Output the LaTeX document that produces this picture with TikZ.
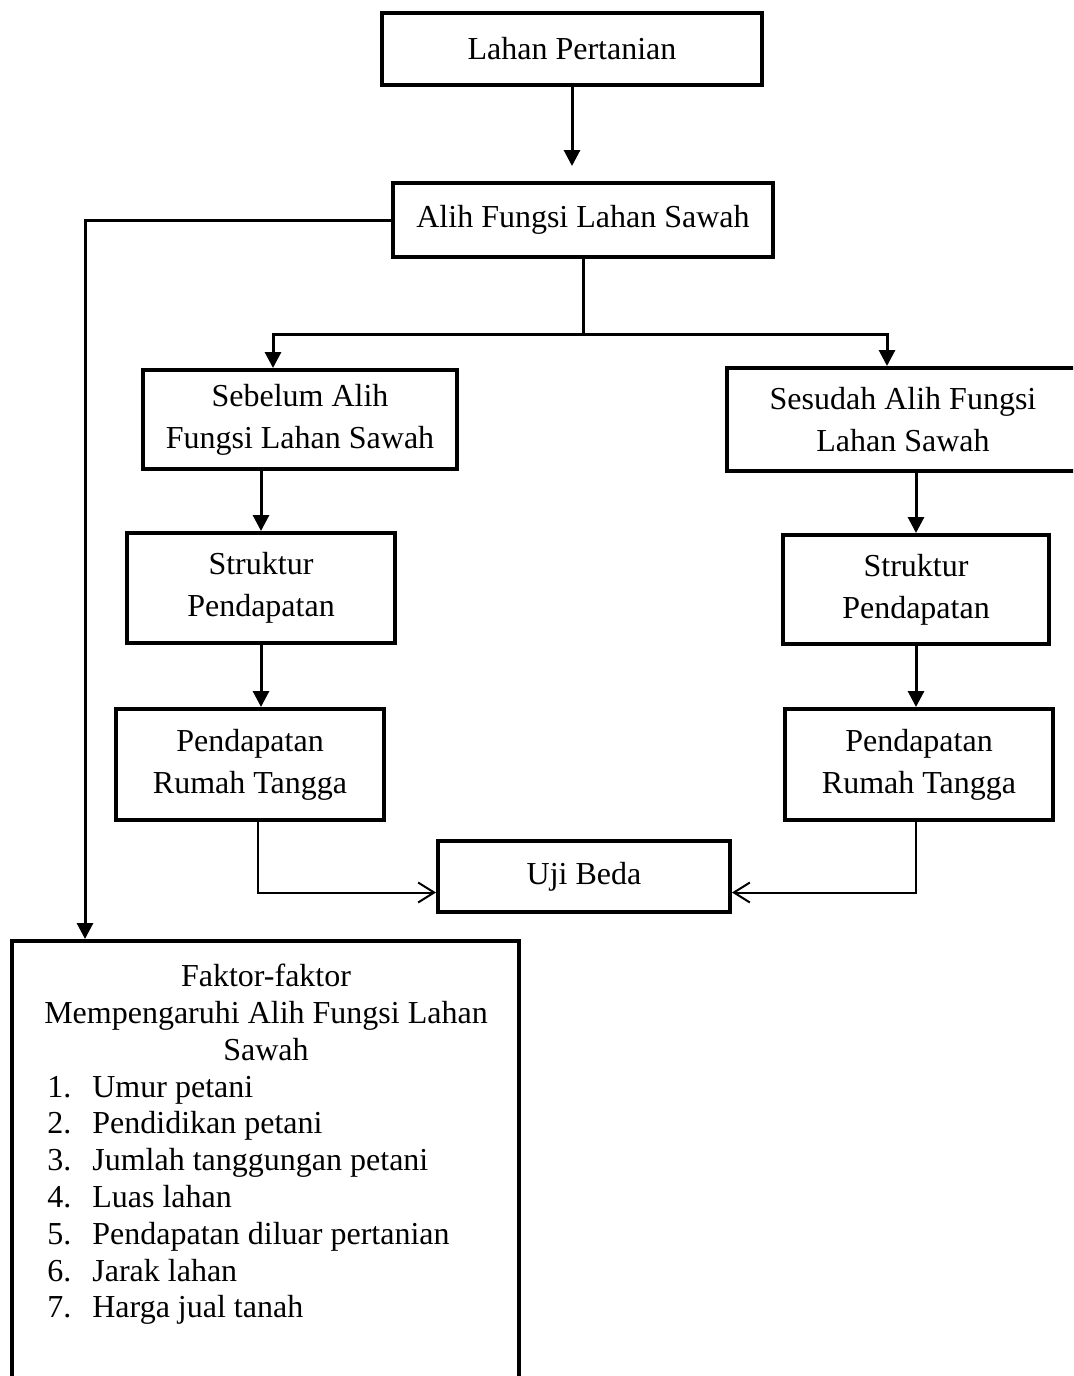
\documentclass[tikz,border=0pt]{standalone}
\usepackage{fontspec}
\setmainfont{Liberation Serif}
\usetikzlibrary{arrows.meta}

\begin{document}
\begin{tikzpicture}[x=0.5pt, y=-0.5pt,
    every node/.style={font=\fontsize{16}{21}\selectfont},
    kotak/.style={draw, line width=2pt, inner sep=0pt, align=center},
    garis/.style={line width=1.5pt},
    panah/.style={line width=1.5pt, -{Triangle[length=8pt,width=8pt]}},
    panahtipis/.style={line width=1pt, -{Straight Barb[length=8pt,width=10pt]}}]
    \useasboundingbox (0,0) rectangle (1073,1376);
    \clip (0,0) rectangle (1073,1376);

    \node[kotak, minimum width=190pt, minimum height=36pt] (lahan) at (572,49) {Lahan Pertanian};
    \node[kotak, minimum width=190pt, minimum height=37pt] (alih) at (583,220) {Alih Fungsi Lahan Sawah};

    \node[kotak, minimum width=157pt, minimum height=49.5pt] (sebelum) at (300,419.5) {Sebelum Alih\\Fungsi Lahan Sawah};
    \node[kotak, minimum width=176pt, minimum height=51.5pt] (sesudah) at (903,419.5) {Sesudah Alih Fungsi\\Lahan Sawah};

    \node[kotak, minimum width=134pt, minimum height=55pt] (strukL) at (261,588) {Struktur\\Pendapatan};
    \node[kotak, minimum width=133pt, minimum height=54.5pt] (strukR) at (916,589.5) {Struktur\\Pendapatan};

    \node[kotak, minimum width=134pt, minimum height=55.5pt] (rumahL) at (250,764.5) {Pendapatan\\Rumah Tangga};
    \node[kotak, minimum width=134pt, minimum height=55.5pt] (rumahR) at (919,764.5) {Pendapatan\\Rumah Tangga};

    \node[kotak, minimum width=146pt, minimum height=35.5pt] (uji) at (584,876.5) {Uji Beda};

    % kotak faktor, terpotong di bawah
    \node[kotak, minimum width=253.5pt, minimum height=229.5pt] (fak) at (265.5,1170.5) {};
    \node[anchor=base, align=center, inner sep=0pt, font=\fontsize{16}{18.4}\selectfont] (judul) at (266,1060)
        {Faktor-faktor\\Mempengaruhi Alih Fungsi Lahan\\Sawah};
    \foreach \n/\isi in {1/Umur petani, 2/Pendidikan petani, 3/Jumlah tanggungan petani,
            4/Luas lahan, 5/Pendapatan diluar pertanian, 6/Jarak lahan, 7/Harga jual tanah} {
            \node[anchor=base west, inner sep=0pt] (butir\n) at (47,{1097+36.8*(\n-1)}) {\makebox[22.5pt][l]{\n.}\isi};
        }

    \draw[panah, shorten >=7.5pt] (lahan.south) -- (lahan.south |- alih.north);
    \draw[panah] (alih.west) -| ([xshift=37.5pt]fak.north west);

    \coordinate (cabang) at ([yshift=-37.5pt]alih.south);
    \draw[garis] (alih.south) -- (cabang);
    \draw[panah] (cabang) -| ([xshift=-13.5pt]sebelum.north);
    \draw[panah] (cabang) -| ([xshift=-8pt]sesudah.north);

    \draw[panah] (strukL.north |- sebelum.south) -- (strukL.north);
    \draw[panah] (strukL.south) -- (strukL.south |- rumahL.north);
    \draw[panah] (strukR.north |- sesudah.south) -- (strukR.north);
    \draw[panah] (strukR.south) -- (strukR.south |- rumahR.north);

    \draw[panahtipis] ([xshift=4pt]rumahL.south) |- ([yshift=-8pt]uji.west);
    \draw[panahtipis] ([xshift=-1.5pt]rumahR.south) |- ([yshift=-8pt]uji.east);
\end{tikzpicture}
\end{document}
